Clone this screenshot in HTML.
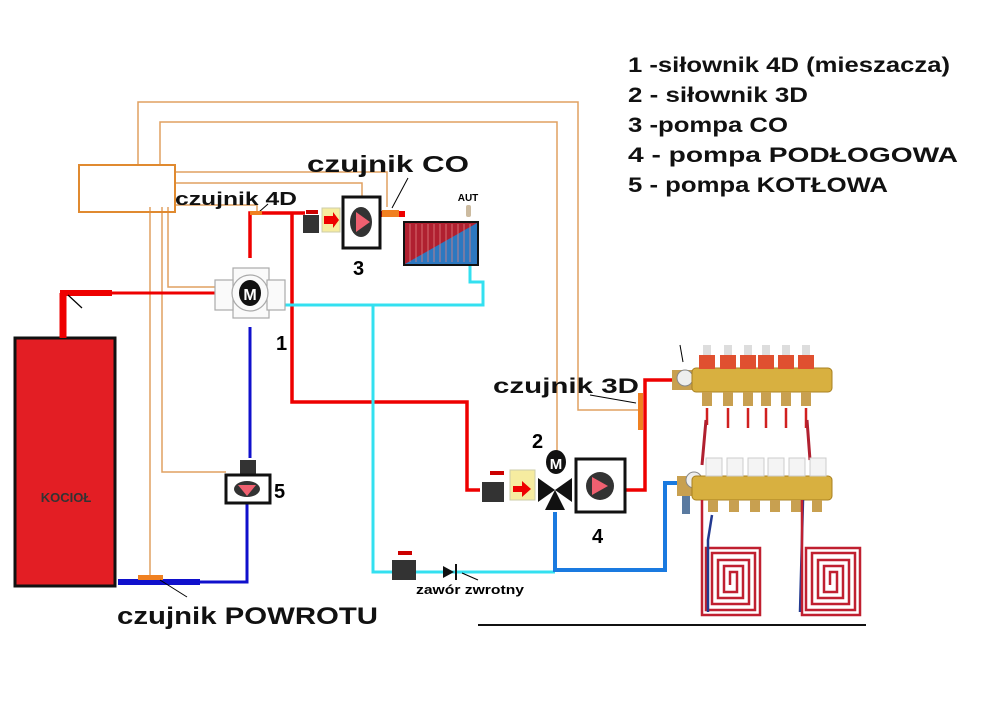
<!DOCTYPE html>
<html><head><meta charset="utf-8"><style>
body{margin:0;background:#fff;}
svg{display:block;font-family:"Liberation Sans",sans-serif;}
</style></head><body>
<svg width="1000" height="706" viewBox="0 0 1000 706" xmlns="http://www.w3.org/2000/svg">
<rect width="1000" height="706" fill="#fff"/>
<!-- wires -->
<g fill="none" stroke="#e0a060" stroke-width="1.5">
<polyline points="138,165 138,102 578,102 578,410 640,410"/>
<polyline points="160,165 160,122 557,122 557,455"/>
<polyline points="175,172 387,172 387,207"/>
<polyline points="175,183 362,183 362,200"/>
<polyline points="175,205 257,205 257,212"/>
<polyline points="150,207 150,580"/>
<polyline points="162,207 162,472 226,472"/>
<polyline points="168,207 168,287 240,287"/>
</g>
<rect x="79" y="165" width="96" height="47" fill="none" stroke="#e08a30" stroke-width="2"/>
<!-- boiler -->
<rect x="15" y="338" width="100" height="248" fill="#e31e24" stroke="#111" stroke-width="3"/>
<text x="66" y="502" font-size="13" font-weight="bold" text-anchor="middle" fill="#333">KOCIOŁ</text>
<line x1="63" y1="338" x2="63" y2="293" stroke="#e00" stroke-width="7"/>
<line x1="60" y1="293" x2="112" y2="293" stroke="#e00" stroke-width="6"/>
<line x1="110" y1="293" x2="215" y2="293" stroke="#e00" stroke-width="3"/>
<path d="M68 295 L82 308" stroke="#000" stroke-width="1.2"/>
<!-- red pipes -->
<g fill="none" stroke="#e00" stroke-width="3.5">
<polyline points="250,258 250,213 305,213"/>
<polyline points="292,213 292,402 467,402 467,490 480,490"/>
<polyline points="625,490 645,490 645,380 690,380"/>
<line x1="380" y1="214" x2="405" y2="214" stroke-width="6"/>
</g>
<!-- blue -->
<g fill="none" stroke="#1010cc" stroke-width="3">
<polyline points="250,327 250,458"/>
<polyline points="247,502 247,582 118,582"/>
</g>
<line x1="118" y1="582" x2="200" y2="582" stroke="#1010cc" stroke-width="6"/>
<rect x="138" y="575" width="25" height="5" fill="#f08020"/>
<path d="M160 580 L187 597" stroke="#000" stroke-width="1"/>
<!-- cyan -->
<g fill="none" stroke="#33e0f0" stroke-width="3">
<polyline points="285,305 483,305 483,282 470,282 470,265"/>
<polyline points="373,305 373,572 555,572"/>
</g>
<g fill="none" stroke="#1a7ae0" stroke-width="4">
<polyline points="555,512 555,570 665,570 665,483 690,483"/>
</g>
<!-- valve 1 -->
<g stroke="#aaa" fill="#fafafa" stroke-width="1.2">
<rect x="233" y="268" width="36" height="18"/>
<rect x="233" y="300" width="36" height="18"/>
<rect x="215" y="280" width="18" height="30"/>
<rect x="267" y="280" width="18" height="30"/>
<circle cx="250" cy="293" r="18"/>
</g>
<ellipse cx="250" cy="293" rx="11" ry="13" fill="#111"/>
<text x="250" y="300" font-size="16" font-weight="bold" fill="#fff" text-anchor="middle">M</text>
<text x="276" y="350" font-size="20" font-weight="bold">1</text>
<!-- pump 3 -->
<rect x="303" y="215" width="16" height="18" fill="#333"/>
<rect x="306" y="210" width="12" height="4" fill="#c00"/>
<rect x="322" y="208" width="18" height="24" fill="#f6eca0" stroke="#cca" />
<polygon points="324,216 333,216 333,212 339,220 333,228 333,224 324,224" fill="#e00"/>
<rect x="343" y="197" width="37" height="51" fill="#fff" stroke="#111" stroke-width="3"/>
<ellipse cx="361" cy="222" rx="11" ry="15" fill="#333"/>
<polygon points="356,212 370,222 356,232" fill="#f06070"/>
<text x="353" y="275" font-size="20" font-weight="bold">3</text>
<rect x="382" y="210" width="17" height="7" fill="#f08020"/>
<!-- radiator -->
<rect x="404" y="222" width="74" height="43" fill="#2d78c0" stroke="#111" stroke-width="2"/>
<polygon points="405,223 477,223 405,264" fill="#b02030"/>
<g stroke="#e08080" stroke-width="0.8">
<line x1="410" y1="224" x2="410" y2="262"/><line x1="416" y1="224" x2="416" y2="262"/><line x1="422" y1="224" x2="422" y2="262"/><line x1="428" y1="224" x2="428" y2="262"/><line x1="434" y1="224" x2="434" y2="262"/><line x1="440" y1="224" x2="440" y2="262"/><line x1="446" y1="224" x2="446" y2="262"/><line x1="452" y1="224" x2="452" y2="262"/><line x1="458" y1="224" x2="458" y2="262"/><line x1="464" y1="224" x2="464" y2="262"/><line x1="470" y1="224" x2="470" y2="262"/>
</g>
<text x="468" y="201" font-size="10" font-weight="bold" text-anchor="middle">AUT</text>
<rect x="466" y="205" width="5" height="12" rx="2" fill="#ccbba0"/>
<!-- pump 5 -->
<rect x="240" y="460" width="16" height="14" fill="#333"/>
<rect x="226" y="475" width="44" height="28" fill="#fff" stroke="#111" stroke-width="3"/>
<ellipse cx="247" cy="489" rx="13" ry="8" fill="#333"/>
<polygon points="238,485 256,485 247,496" fill="#f06070"/>
<text x="274" y="498" font-size="20" font-weight="bold">5</text>
<!-- valve block 2 -->
<rect x="482" y="482" width="22" height="20" fill="#333"/>
<rect x="490" y="471" width="14" height="4" fill="#c00"/>
<rect x="510" y="470" width="25" height="30" fill="#f6eca0" stroke="#cca"/>
<polygon points="513,486 522,486 522,481 531,489 522,497 522,492 513,492" fill="#e00"/>
<polygon points="538,478 555,490 538,502" fill="#111"/>
<polygon points="572,478 555,490 572,502" fill="#111"/>
<polygon points="545,510 555,490 565,510" fill="#111"/>
<ellipse cx="556" cy="462" rx="10" ry="12" fill="#111"/>
<text x="556" y="469" font-size="15" font-weight="bold" fill="#fff" text-anchor="middle">M</text>
<text x="532" y="448" font-size="20" font-weight="bold">2</text>
<rect x="576" y="459" width="49" height="53" fill="#fff" stroke="#111" stroke-width="3"/>
<circle cx="600" cy="486" r="14" fill="#333"/>
<polygon points="592,477 608,486 592,495" fill="#f06070"/>
<text x="592" y="543" font-size="20" font-weight="bold">4</text>
<!-- 3D sensor -->
<rect x="638" y="393" width="5" height="37" fill="#f08020"/>
<path d="M590 395 L636 403" stroke="#000" stroke-width="1"/>
<!-- check valve -->
<rect x="392" y="560" width="24" height="20" fill="#333"/>
<rect x="398" y="551" width="14" height="4" fill="#c00"/>
<polygon points="443,566 443,578 454,572" fill="#111"/>
<line x1="456" y1="564" x2="456" y2="580" stroke="#111" stroke-width="2"/>
<path d="M462 573 L478 580" stroke="#000" stroke-width="1"/>
<text x="416" y="594" font-size="13" font-weight="bold" textLength="108" lengthAdjust="spacingAndGlyphs">zawór zwrotny</text>
<!-- manifolds -->
<rect x="672" y="370" width="22" height="20" fill="#c8a050"/>
<circle cx="685" cy="378" r="8" fill="#eee" stroke="#888"/>
<rect x="692" y="368" width="140" height="24" rx="4" fill="#d8b040" stroke="#a88020"/>
<g fill="#e05030">
<rect x="699" y="355" width="16" height="14"/><rect x="720" y="355" width="16" height="14"/><rect x="740" y="355" width="16" height="14"/><rect x="758" y="355" width="16" height="14"/><rect x="778" y="355" width="16" height="14"/><rect x="798" y="355" width="16" height="14"/>
</g>
<g fill="#ddd"><rect x="703" y="345" width="8" height="10"/><rect x="724" y="345" width="8" height="10"/><rect x="744" y="345" width="8" height="10"/><rect x="762" y="345" width="8" height="10"/><rect x="782" y="345" width="8" height="10"/><rect x="802" y="345" width="8" height="10"/></g>
<g fill="#c8a050"><rect x="702" y="392" width="10" height="14"/><rect x="723" y="392" width="10" height="14"/><rect x="743" y="392" width="10" height="14"/><rect x="761" y="392" width="10" height="14"/><rect x="781" y="392" width="10" height="14"/><rect x="801" y="392" width="10" height="14"/></g>
<g stroke="#d02020" stroke-width="2.5"><line x1="707" y1="408" x2="707" y2="425"/><line x1="728" y1="408" x2="728" y2="428"/><line x1="748" y1="408" x2="748" y2="428"/><line x1="766" y1="408" x2="766" y2="428"/><line x1="786" y1="408" x2="786" y2="428"/><line x1="806" y1="408" x2="806" y2="428"/></g>
<path d="M706 420 L702 465 M807 420 L810 460" stroke="#b02030" stroke-width="3"/>
<rect x="677" y="476" width="18" height="20" fill="#c8a050"/>
<circle cx="694" cy="480" r="8" fill="#eee" stroke="#888"/>
<rect x="682" y="496" width="8" height="18" fill="#5a7aa0"/>
<rect x="692" y="476" width="140" height="24" rx="4" fill="#d8b040" stroke="#a88020"/>
<g fill="#f4f4f4" stroke="#ccc"><rect x="706" y="458" width="16" height="18"/><rect x="727" y="458" width="16" height="18"/><rect x="748" y="458" width="16" height="18"/><rect x="768" y="458" width="16" height="18"/><rect x="789" y="458" width="16" height="18"/><rect x="810" y="458" width="16" height="18"/></g>
<g fill="#c8a050"><rect x="708" y="500" width="10" height="12"/><rect x="729" y="500" width="10" height="12"/><rect x="750" y="500" width="10" height="12"/><rect x="770" y="500" width="10" height="12"/><rect x="791" y="500" width="10" height="12"/><rect x="812" y="500" width="10" height="12"/></g>
<!-- coils -->
<g fill="none" stroke-width="2.5">
<path d="M702 500 L702 615 L760 615 L760 548 L706 548 L706 610 L755 610 L755 553 L712 553 L712 604 L749 604 L749 560 L718 560 L718 598 L743 598 L743 566 L724 566 L724 592 L737 592 L737 572 L730 572 L730 585" stroke="#c02030"/>
<path d="M712 515 L708 540 L708 612 M803 500 L800 612" stroke="#223a90"/>
<path d="M802 500 L802 615 L860 615 L860 548 L806 548 L806 610 L855 610 L855 553 L812 553 L812 604 L849 604 L849 560 L818 560 L818 598 L843 598 L843 566 L824 566 L824 592 L837 592 L837 572 L830 572 L830 585" stroke="#c02030"/>
</g>
<line x1="478" y1="625" x2="866" y2="625" stroke="#111" stroke-width="2"/>
<path d="M680 345 L683 362" stroke="#000" stroke-width="1"/>
<!-- labels -->
<g font-weight="bold" fill="#111">
<text x="307" y="172" font-size="23" textLength="162" lengthAdjust="spacingAndGlyphs">czujnik CO</text>
<path d="M408 178 L392 208" stroke="#000" stroke-width="1"/>
<text x="175" y="205" font-size="18" textLength="122" lengthAdjust="spacingAndGlyphs">czujnik 4D</text>
<path d="M268 204 L259 212" stroke="#000" stroke-width="1"/>
<rect x="250" y="211" width="12" height="4" fill="#f08020"/>
<text x="493" y="393" font-size="21" textLength="146" lengthAdjust="spacingAndGlyphs">czujnik 3D</text>
<text x="117" y="624" font-size="24" textLength="261" lengthAdjust="spacingAndGlyphs">czujnik POWROTU</text>
<text x="628" y="72" font-size="21" textLength="322" lengthAdjust="spacingAndGlyphs">1 -siłownik 4D (mieszacza)</text>
<text x="628" y="102" font-size="21" textLength="180" lengthAdjust="spacingAndGlyphs">2 - siłownik 3D</text>
<text x="628" y="132" font-size="21" textLength="160" lengthAdjust="spacingAndGlyphs">3 -pompa CO</text>
<text x="628" y="162" font-size="21" textLength="330" lengthAdjust="spacingAndGlyphs">4 - pompa PODŁOGOWA</text>
<text x="628" y="192" font-size="21" textLength="260" lengthAdjust="spacingAndGlyphs">5 - pompa KOTŁOWA</text>
</g>
</svg>
</body></html>
